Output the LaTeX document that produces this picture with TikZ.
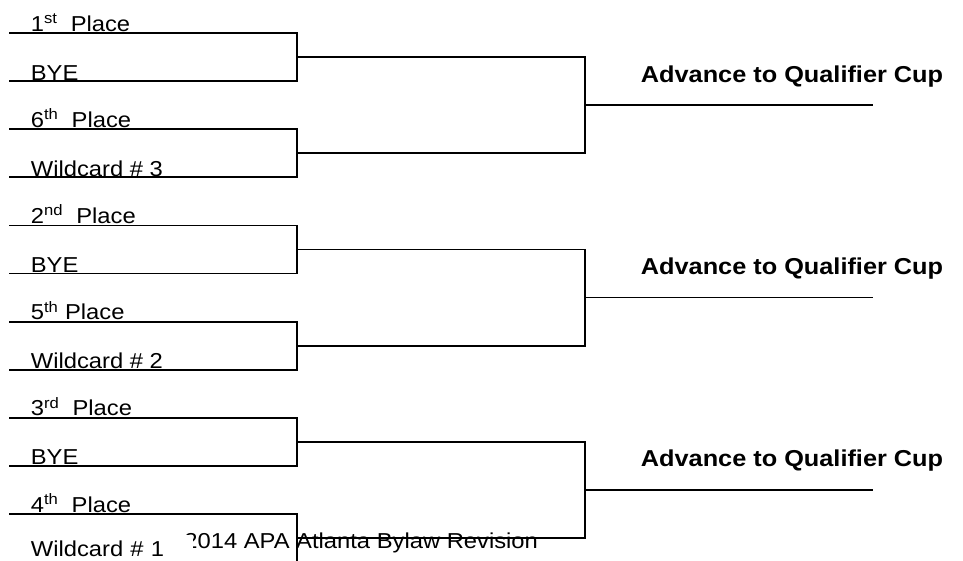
\documentclass[tikz,border=0pt]{standalone}
\usepackage{fontspec}
\setmainfont[FakeStretch=1.1]{Liberation Sans}
\usetikzlibrary{calc}

\begin{document}
\begin{tikzpicture}[x=1pt,y=-1pt,line width=1.8pt,
  seed/.style={anchor=base west,inner sep=0pt,font=\fontsize{21.6}{25}\selectfont},
  goal/.style={anchor=base west,inner sep=0pt,font=\fontsize{23}{26}\selectfont\bfseries}]
  \useasboundingbox (0,0) rectangle (963,560);
  \def\L{9}
  \def\A{297}

  % first round lines
  \coordinate (s0) at (\L,33);    \coordinate (e0) at (\A,33);
  \coordinate (s1) at (\L,81.1);  \coordinate (e1) at (\A,81.1);
  \coordinate (s2) at (\L,129.2); \coordinate (e2) at (\A,129.2);
  \coordinate (s3) at (\L,177.3); \coordinate (e3) at (\A,177.3);
  \coordinate (s4) at (\L,225.4); \coordinate (e4) at (\A,225.4);
  \coordinate (s5) at (\L,273.5); \coordinate (e5) at (\A,273.5);
  \coordinate (s6) at (\L,321.6); \coordinate (e6) at (\A,321.6);
  \coordinate (s7) at (\L,369.7); \coordinate (e7) at (\A,369.7);
  \coordinate (s8) at (\L,417.8); \coordinate (e8) at (\A,417.8);
  \coordinate (s9) at (\L,465.9); \coordinate (e9) at (\A,465.9);
  \coordinate (s10) at (\L,514);  \coordinate (e10) at (\A,514);
  \coordinate (s11) at (\L,562.1); \coordinate (e11) at (\A,562.1);

  \draw (s0) -- (e0) -- (e1) -- (s1);
  \draw (s2) -- (e2) -- (e3) -- (s3);
  \draw (s4) -- (e4) -- (e5) -- (s5);
  \draw (s6) -- (e6) -- (e7) -- (s7);
  \draw (s8) -- (e8) -- (e9) -- (s9);
  \draw (s10) -- (e10) -- (e11) -- (s11);

  % second round
  \coordinate (m0) at ($(e0)!0.5!(e1)$);   \coordinate (n0) at ($(m0)+(288,0)$);
  \coordinate (m1) at ($(e2)!0.5!(e3)$);   \coordinate (n1) at ($(m1)+(288,0)$);
  \coordinate (m2) at ($(e4)!0.5!(e5)$);   \coordinate (n2) at ($(m2)+(288,0)$);
  \coordinate (m3) at ($(e6)!0.5!(e7)$);   \coordinate (n3) at ($(m3)+(288,0)$);
  \coordinate (m4) at ($(e8)!0.5!(e9)$);   \coordinate (n4) at ($(m4)+(288,0)$);
  \coordinate (m5) at ($(e10)!0.5!(e11)$); \coordinate (n5) at ($(m5)+(288,0)$);

  \draw (m0) -- (n0) -- (n1) -- (m1);
  \draw (m2) -- (n2) -- (n3) -- (m3);
  \draw (m4) -- (n4) -- (n5) -- (m5);

  % advance lines
  \coordinate (p0) at ($(n0)!0.5!(n1)$); \coordinate (q0) at ($(p0)+(288,0)$);
  \coordinate (p1) at ($(n2)!0.5!(n3)$); \coordinate (q1) at ($(p1)+(288,0)$);
  \coordinate (p2) at ($(n4)!0.5!(n5)$); \coordinate (q2) at ($(p2)+(288,0)$);

  \draw (p0) -- (q0);
  \draw (p1) -- (q1);
  \draw (p2) -- (q2);

  \node[goal] (g0) at ($(q0)+(-233,-23)$) {Advance to Qualifier Cup};
  \node[goal] (g1) at ($(q1)+(-233,-23)$) {Advance to Qualifier Cup};
  \node[goal] (g2) at ($(q2)+(-233,-23)$) {Advance to Qualifier Cup};

  \node[seed] (foot) at (183.5,548) {2014 APA Atlanta Bylaw Revision};

  % seed labels
  \node[seed] (t0) at ($(s0)+(21,-2)$) {1\textsuperscript{st}\ \ Place};
  \node[seed] (t1) at ($(s1)+(21,-1)$) {BYE};
  \node[seed] (t2) at ($(s2)+(21,-2)$) {6\textsuperscript{th}\ \ Place};
  \node[seed] (t3) at ($(s3)+(21,-1)$) {Wildcard \# 3};
  \node[seed] (t4) at ($(s4)+(21,-2)$) {2\textsuperscript{nd}\ \ Place};
  \node[seed] (t5) at ($(s5)+(21,-1)$) {BYE};
  \node[seed] (t6) at ($(s6)+(21,-2)$) {5\textsuperscript{th} Place};
  \node[seed] (t7) at ($(s7)+(21,-1)$) {Wildcard \# 2};
  \node[seed] (t8) at ($(s8)+(21,-2)$) {3\textsuperscript{rd}\ \ Place};
  \node[seed] (t9) at ($(s9)+(21,-1)$) {BYE};
  \node[seed] (t10) at ($(s10)+(21,-2)$) {4\textsuperscript{th}\ \ Place};
  \node[seed,fill=white,text width=162pt,inner ysep=5pt] (t11) at ($(s11)+(21,-6)$) {Wildcard \# 1};
\end{tikzpicture}
\end{document}
